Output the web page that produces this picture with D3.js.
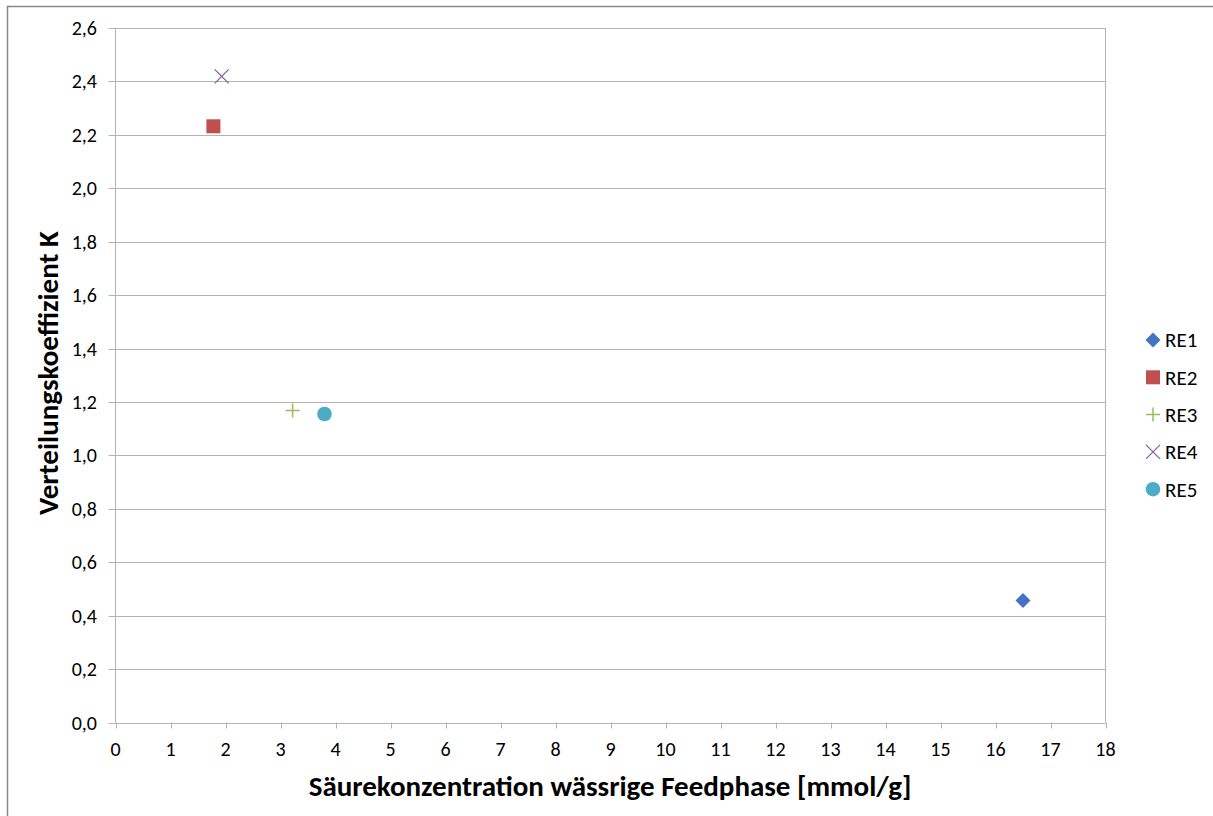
<!DOCTYPE html>
<html><head><meta charset="utf-8">
<script src="https://cdn.jsdelivr.net/npm/d3@7"></script>
<style>body{margin:0;background:#fff;} text{font-family:Carlito,Lato,"Open Sans",sans-serif;}</style>
</head><body>
<svg id="c" width="1213" height="816"></svg>
<script>
const seriesNames = ["RE1","RE2","RE3","RE4","RE5"];
const xValues = [16.5, 1.78, 3.22, 1.93, 3.80];
const yValues = [0.457, 2.232, 1.168, 2.419, 1.155];
const colors = ["#4472C4","#C0504D","#9BBB59","#8064A2","#4BACC6"];
const symbols = ["diamond","square","plus","cross","circle"];
const xTicks = d3.range(0, 19, 1);
const yTicks = d3.range(0, 2.61, 0.2);
const xTitle = "Säurekonzentration wässrige Feedphase [mmol/g]";
const yTitle = "Verteilungskoeffizient K";

const svg = d3.select("#c");
const L = 115.5, R = 1105.5, T = 28, B = 722.5;
const x = d3.scaleLinear().domain([0,18]).range([L,R]);
const y = d3.scaleLinear().domain([0,2.6]).range([B,T]);

// outer border
svg.append("path").attr("d","M7.5,816 V6.5 H1213").attr("fill","none").attr("stroke","#888").attr("stroke-width",1.5);

// grid
svg.append("g").selectAll("line").data(yTicks).join("line")
  .attr("x1",L-7).attr("x2",R).attr("y1",d=>Math.round(y(d))+0.5).attr("y2",d=>Math.round(y(d))+0.5)
  .attr("stroke","#b3b3b3").attr("stroke-width",1);
svg.append("line").attr("x1",R).attr("x2",R).attr("y1",T).attr("y2",B).attr("stroke","#b3b3b3");
// y axis
svg.append("line").attr("x1",L).attr("x2",L).attr("y1",T).attr("y2",B).attr("stroke","#b3b3b3");
svg.append("g").selectAll("text").data(yTicks).join("text")
  .attr("x",97).attr("y",d=>y(d)).attr("dy","0.35em").attr("text-anchor","end")
  .attr("font-size",20).attr("fill","#000").text(d=>d3.format(".1f")(d).replace(".",","));
// x axis ticks
svg.append("g").selectAll("line").data(xTicks).join("line")
  .attr("x1",d=>Math.round(x(d))+0.5).attr("x2",d=>Math.round(x(d))+0.5).attr("y1",B).attr("y2",B+6)
  .attr("stroke","#b3b3b3");
svg.append("g").selectAll("text").data(xTicks).join("text")
  .attr("x",d=>x(d)).attr("y",B+26).attr("dy","0.35em").attr("text-anchor","middle")
  .attr("font-size",20).attr("fill","#000").text(d=>d);

// titles
svg.append("text").attr("x",610).attr("y",796).attr("text-anchor","middle")
  .attr("font-size",29).attr("font-weight","bold").text(xTitle);
svg.append("text").attr("transform","translate(58,373) rotate(-90)").attr("text-anchor","middle")
  .attr("font-size",29).attr("font-weight","bold").text(yTitle);

function marker(g, sym, color){
  if(sym==="diamond") g.append("path").attr("d","M0,-7.5L7.5,0L0,7.5L-7.5,0Z").attr("fill",color);
  else if(sym==="square") g.append("rect").attr("x",-7).attr("y",-7).attr("width",14).attr("height",14).attr("fill",color);
  else if(sym==="plus") g.append("path").attr("d","M-7,0H7M0,-7V7").attr("stroke",color).attr("stroke-width",1.5);
  else if(sym==="cross") g.append("path").attr("d","M-7,-7L7,7M-7,7L7,-7").attr("stroke",color).attr("stroke-width",1.3);
  else g.append("circle").attr("r",7.3).attr("fill",color);
}
seriesNames.forEach((n,i)=>{
  const g = svg.append("g").attr("transform",`translate(${x(xValues[i])},${y(yValues[i])})`);
  marker(g, symbols[i], colors[i]);
});
// legend
seriesNames.forEach((n,i)=>{
  const ly = 340 + i*37.3;
  const g = svg.append("g").attr("transform",`translate(1153,${ly})`);
  marker(g, symbols[i], colors[i]);
  svg.append("text").attr("x",1165).attr("y",ly).attr("dy","0.35em").attr("font-size",21).text(n);
});
</script>
</body></html>
